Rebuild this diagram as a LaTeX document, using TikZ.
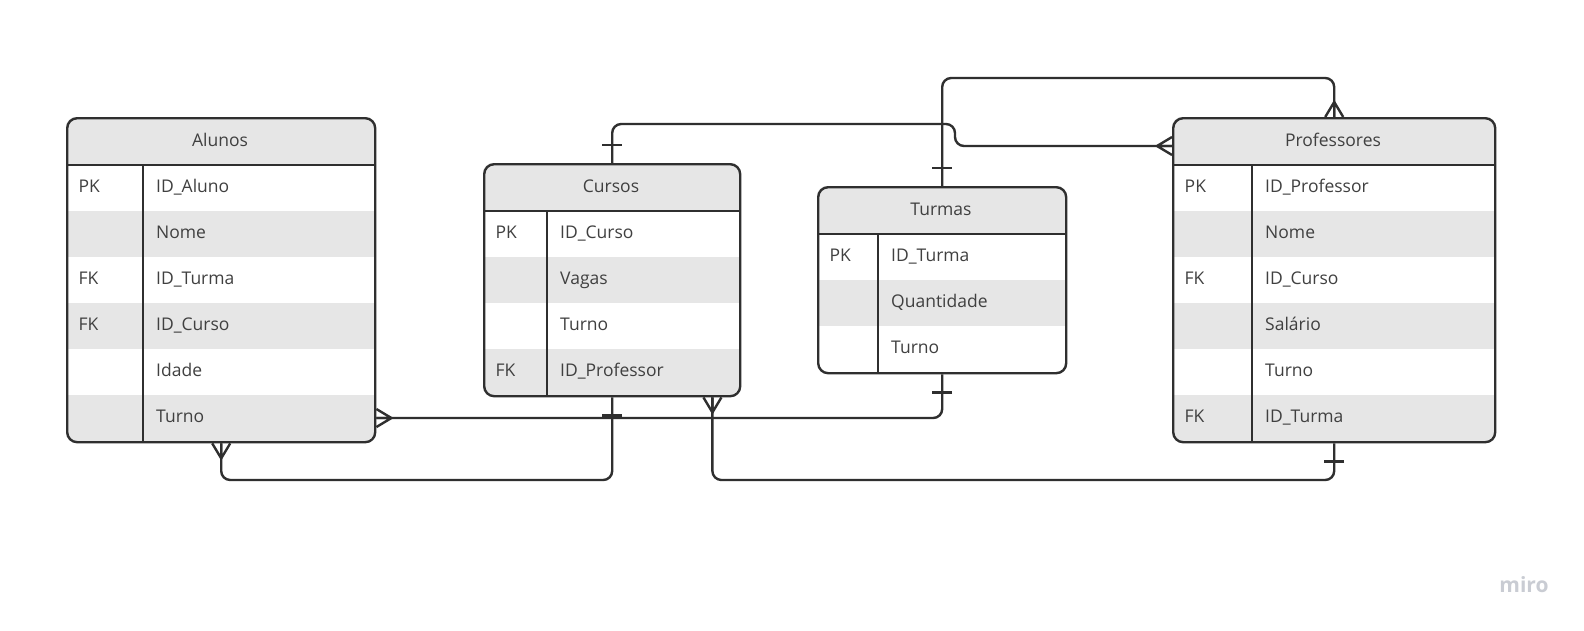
\documentclass[tikz,border=0pt]{standalone}
\usepackage{fontspec}
\setmainfont{Open Sans}
\usetikzlibrary{calc}

\definecolor{ink}{HTML}{2F2F2F}
\definecolor{txt}{HTML}{404040}
\definecolor{band}{HTML}{E6E6E6}
\definecolor{brandgray}{HTML}{C9CCD3}

\tikzset{
  erline/.style={draw=ink, line width=2.4pt},
  conn/.style={erline, rounded corners=9pt},
  celltext/.style={font=\fontsize{17.5}{20}\selectfont, text=txt, inner sep=0pt},
  titletext/.style={celltext, anchor=base},
  keytext/.style={celltext, anchor=base west},
  fieldtext/.style={celltext, anchor=base west},
  pics/crowfoot/.style={code={
    \draw[erline, line join=miter] (0,-9) -- (15,0) -- (0,9) (0,0) -- (15,0);}},
  pics/onebar/.style={code={\draw[erline] (18,-10) -- (18,10);}},
}

% #1 name, #2 left, #3 top, #4 width, #5 key column width,
% #6 title, #7 rows (key/field), #8 number of rows
\newcommand\ertable[8]{%
  \pgfmathsetmacro\erh{48+46*#8}%
  \begin{scope}
    \clip[rounded corners=10pt] (#2,#3) rectangle ++(#4,\erh);
    \fill[band] (#2,#3) rectangle ++(#4,48);
    \foreach \k/\f [count=\i] in {#7} {
      \ifodd\i\relax\else
        \fill[band] (#2,#3+2+46*\i) rectangle ++(#4,46);
      \fi
    }
  \end{scope}
  \node[erline, rounded corners=10pt, minimum width=#4pt, minimum height=\erh pt,
        inner sep=0pt, anchor=north west] (#1) at (#2,#3) {};
  \draw[erline] (#2,#3+48) -- (#2+#4,#3+48);
  \draw[erline] (#2+#5,#3+48) -- (#2+#5,#3+\erh);
  \node[titletext] (#1-t) at (#2+#4/2,#3+29) {#6};
  \foreach \k/\f [count=\i] in {#7} {
    \coordinate (#1-r\i) at (#2,#3+25+46*\i);
    \node[keytext] (#1-k\i) at (#2+12.5,#3+29.5+46*\i) {\k};
    \node[fieldtext] (#1-f\i) at (#2+#5+13,#3+29.5+46*\i) {\f};
  }
}

\begin{document}
\begin{tikzpicture}[x=1pt, y=-1pt]
  \fill[white] (0,0) rectangle (1584,630);
  \useasboundingbox (0,0) rectangle (1584,630);

  % entity tables
  \ertable{alunos}{66}{117}{308}{77}{Alunos}
    {PK/ID\_Aluno, /Nome, FK/ID\_Turma, FK/ID\_Curso, /Idade, /Turno}{6}
  \ertable{cursos}{483}{163}{256}{64}{Cursos}
    {PK/ID\_Curso, /Vagas, /Turno, FK/ID\_Professor}{4}
  \ertable{turmas}{817}{186}{248}{61}{Turmas}
    {PK/ID\_Turma, /Quantidade, /Turno}{3}
  \ertable{professores}{1172}{117}{322}{80}{Professores}
    {PK/ID\_Professor, /Nome, FK/ID\_Curso, /Salário, /Turno, FK/ID\_Turma}{6}

  % routing levels and ports
  \coordinate (lowrail) at (0,480);
  \coordinate (toprail) at (0,124);
  \coordinate (highrail) at (0,78);
  \coordinate (jog) at (955,0);
  \coordinate (cursos-port) at ($(cursos.south east)+(-29,0)$);
  \coordinate (prof-port) at ($(professores.north west)+(0,29)$);

  % Alunos >-- Turmas
  \draw[conn] (alunos.east |- alunos-r6) -| (turmas.south);
  \pic at (alunos.east |- alunos-r6) {crowfoot};
  \pic[rotate=-90] at (turmas.south) {onebar};

  % Alunos >-- Cursos
  \draw[conn] (alunos.south) -- (alunos.south |- lowrail) -| (cursos.south);
  \pic[rotate=-90] at (alunos.south) {crowfoot};
  \pic[rotate=-90] at (cursos.south) {onebar};

  % Cursos >-- Professores
  \draw[conn] (cursos-port) -- (cursos-port |- lowrail) -| (professores.south);
  \pic[rotate=-90] at (cursos-port) {crowfoot};
  \pic[rotate=-90] at (professores.south) {onebar};

  % Cursos --< Professores
  \draw[conn] (cursos.north) -- (cursos.north |- toprail) -- (jog |- toprail)
    -- (jog |- prof-port) -- (prof-port);
  \pic[rotate=90] at (cursos.north) {onebar};
  \pic[rotate=180] at (prof-port) {crowfoot};

  % Turmas --< Professores
  \draw[conn] (turmas.north) -- (turmas.north |- highrail) -| (professores.north);
  \pic[rotate=90] at (turmas.north) {onebar};
  \pic[rotate=90] at (professores.north) {crowfoot};

  \node[text=brandgray, font=\bfseries\fontsize{21}{22}\selectfont, inner sep=0pt]
    (brand) at (1524,585) {miro};
\end{tikzpicture}
\end{document}
